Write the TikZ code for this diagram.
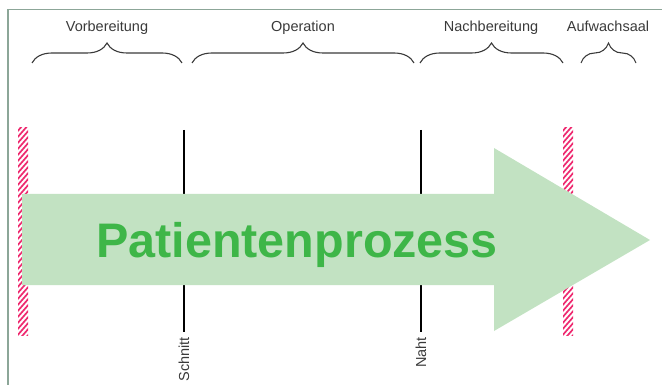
\documentclass[tikz,border=0pt]{standalone}
\usepackage{fontspec}
\setmainfont{Liberation Sans}
\usetikzlibrary{decorations.pathreplacing}
\definecolor{arrowgreen}{RGB}{194,226,194}
\definecolor{textgreen}{RGB}{62,182,72}
\definecolor{hatchpink}{RGB}{238,42,112}
\definecolor{framegray}{RGB}{140,166,152}
\definecolor{labelgray}{RGB}{58,58,58}
\tikzset{
    phasenode/.style = {font=\fontsize{14.5}{14.5}\selectfont, text=labelgray, anchor=base, inner sep=0pt},
    marknode/.style = {font=\fontsize{14.5}{14.5}\selectfont, text=labelgray, rotate=90, anchor=east, inner sep=0pt},
    bracen/.style = {decorate, decoration={brace,amplitude=20pt}, line width=1.1pt, draw=labelgray},
    cutline/.style = {line width=1.8pt, black},
    hatchline/.style = {line width=1.7pt, hatchpink},
    framen/.style = {line width=1.5pt, framegray},
    bignode/.style = {font=\fontsize{48.5}{48.5}\selectfont\bfseries, text=textgreen, anchor=base, inner sep=0pt}
}

\begin{document}
\begin{tikzpicture}[x=1pt,y=1pt]
  \useasboundingbox (0,-385) rectangle (662,0);
  \draw[framen] (8,-385) -- (8,-9.5) -- (662,-9.5);

  % phases
  \node[phasenode] (vor) at (107,-32) {Vorbereitung};
  \node[phasenode] (op) at (303,-32) {Operation};
  \node[phasenode] (nach) at (491,-32) {Nachbereitung};
  \node[phasenode] (auf) at (608,-32) {Aufwachsaal};

  \coordinate (vorA) at (32,-63);  \coordinate (vorB) at (182,-63);
  \coordinate (opA) at (192,-63);  \coordinate (opB) at (414,-63);
  \coordinate (nachA) at (420,-63); \coordinate (nachB) at (563,-63);
  \coordinate (aufA) at (581,-63);  \coordinate (aufB) at (636,-63);
  \draw[bracen] (vorA) -- (vorB);
  \draw[bracen] (opA) -- (opB);
  \draw[bracen] (nachA) -- (nachB);
  \draw[bracen] (aufA) -- (aufB);

  % hatched limits
  \foreach \x in {18,563}{
    \begin{scope}
      \clip (\x,-128) rectangle ++(10,-207);
      \foreach \y in {0,6,...,228}
        \draw[hatchline] (\x-2,-349+\y) -- ++(14,16);
    \end{scope}
  }

  % cut and suture
  \node[marknode] (schnitt) at (184,-337) {Schnitt};
  \node[marknode] (naht) at (421,-337) {Naht};
  \coordinate (schnittTop) at (184,-130);
  \coordinate (nahtTop) at (421,-130);
  \draw[cutline] (schnittTop) -- ([yshift=5pt]schnitt.east);
  \draw[cutline] (nahtTop) -- ([yshift=5pt]naht.east);

  % process arrow
  \fill[arrowgreen] (22,-194) -- (494,-194) -- (494,-148) -- (650,-240)
    -- (494,-331) -- (494,-285) -- (22,-285) -- cycle;
  \node[bignode] (proz) at (297,-258) {Patientenprozess};
\end{tikzpicture}
\end{document}
